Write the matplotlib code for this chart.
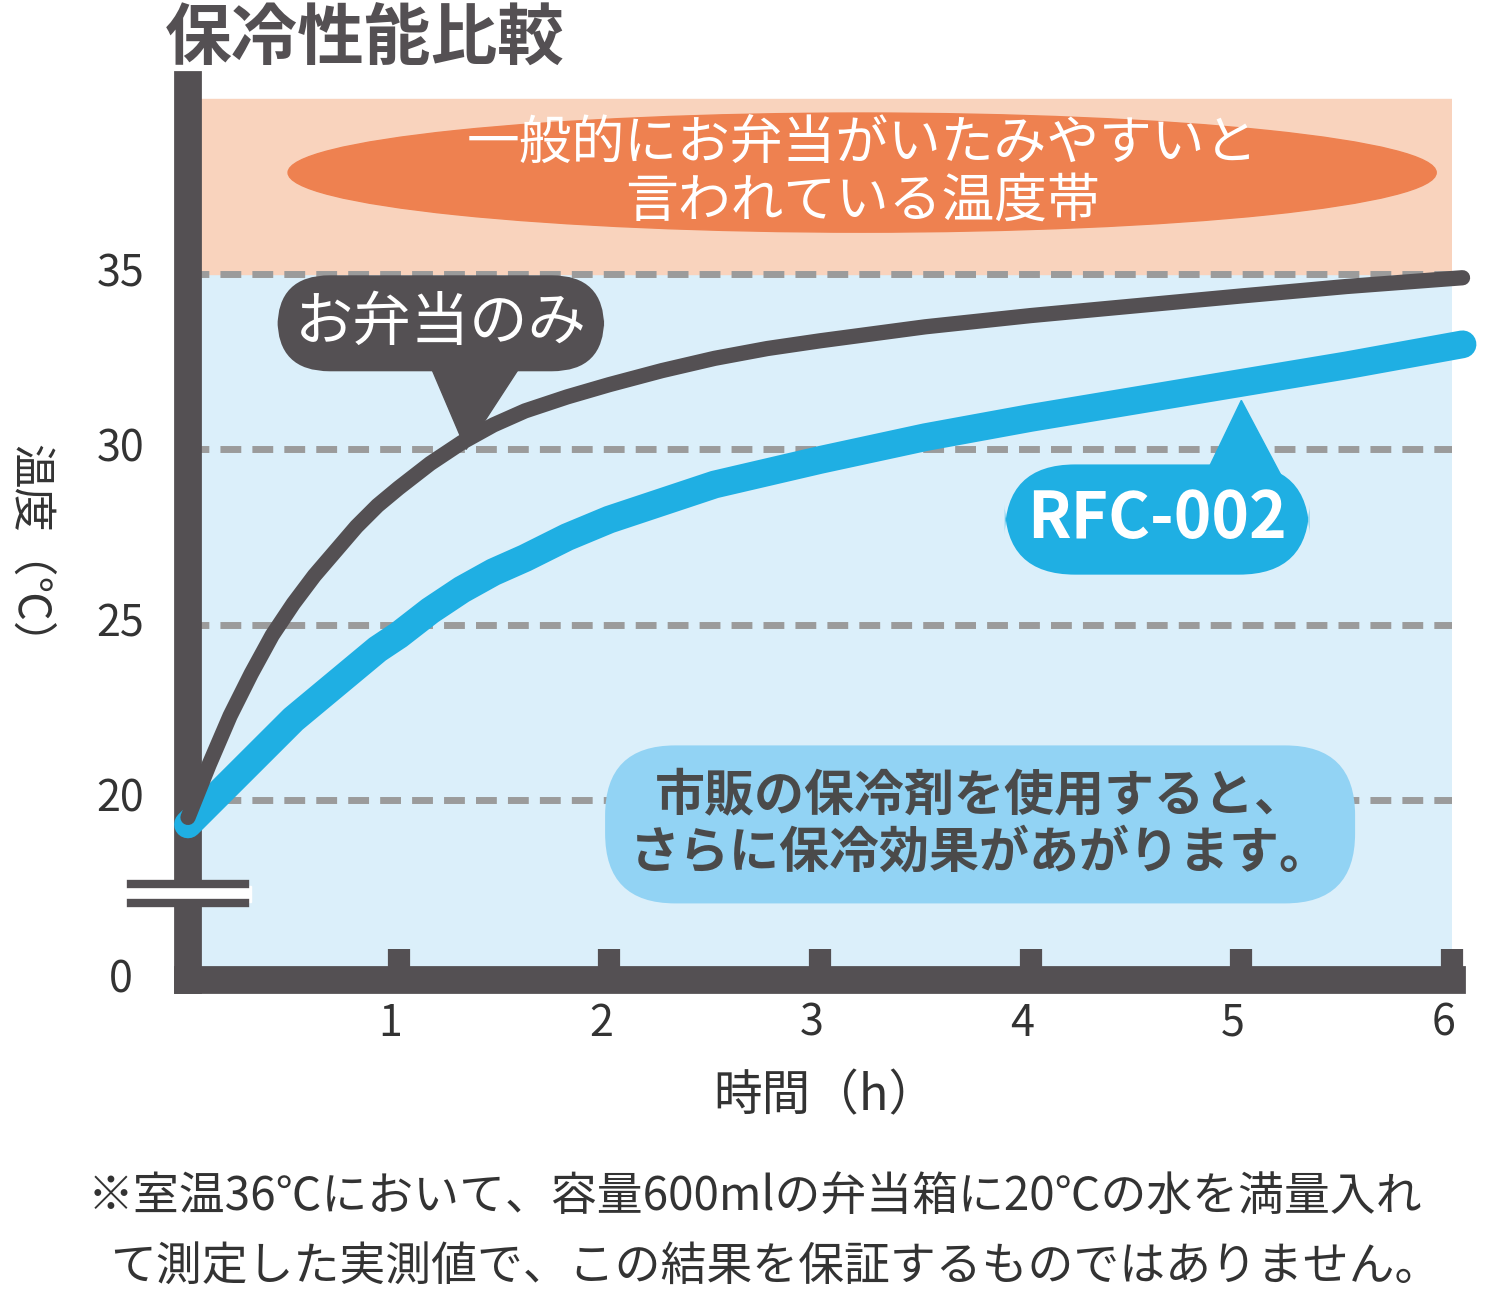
import matplotlib
matplotlib.use("Agg")
import matplotlib.pyplot as plt
import numpy as np
from matplotlib.patches import Ellipse, Polygon, Rectangle

plt.rcParams['font.family'] = ['Noto Sans CJK JP', 'DejaVu Sans']

hours = [0, 0.1, 0.2, 0.3, 0.4, 0.5, 0.6, 0.7, 0.8, 0.9, 1.0, 1.15, 1.3, 1.45, 1.6, 1.8, 2.0, 2.25, 2.5, 2.75, 3.0, 3.5, 4.0, 4.5, 5.0, 5.5, 6.05]
bento_only = [19.5, 21.0, 22.4, 23.6, 24.7, 25.6, 26.4, 27.1, 27.8, 28.4, 28.9, 29.6, 30.2, 30.7, 31.1, 31.5, 31.85, 32.25, 32.6, 32.88, 33.1, 33.5, 33.82, 34.1, 34.38, 34.65, 34.9]
rfc002 = [19.3, 19.9, 20.5, 21.1, 21.7, 22.3, 22.8, 23.3, 23.8, 24.3, 24.7, 25.4, 26.0, 26.5, 26.9, 27.5, 28.0, 28.5, 29.0, 29.35, 29.7, 30.35, 30.9, 31.4, 31.9, 32.4, 33.0]
x_ticks = [1, 2, 3, 4, 5, 6]
y_ticks = [20, 25, 30, 35]
danger_low, danger_high = 35, 40

DARK = '#545053'
BLUE = '#1fafe3'
ORANGE_BG = '#f9d3bd'
BLUE_BG = '#dbeffa'
TXT = '#333333'

fig = plt.figure(figsize=(15, 12.93), dpi=100)
ax = fig.add_axes([188/1500, (1293-980)/1293, (1452-188)/1500, (980-85)/1293])
ax.set_xlim(0, 6.0)
ax.set_ylim(14.86, 40.4)

ax.axhspan(14.86, danger_low, color=BLUE_BG, zorder=0)
ax.axhspan(danger_low, danger_high, color=ORANGE_BG, zorder=0)
for y in y_ticks:
    ax.axhline(y, color='#9b9b9b', lw=5, ls=(0, (3, 1.6)), zorder=1)

ax.plot(hours, rfc002, color=BLUE, lw=20, solid_capstyle='round', solid_joinstyle='round', zorder=3, clip_on=False)
ax.plot(hours, bento_only, color=DARK, lw=11, solid_capstyle='round', solid_joinstyle='round', zorder=4, clip_on=False)

for s in ['top', 'right']:
    ax.spines[s].set_visible(False)
for s in ['left', 'bottom']:
    ax.spines[s].set_color(DARK)
    ax.spines[s].set_linewidth(20)
ax.set_xticks(x_ticks)
ax.set_xticklabels([])
ax.tick_params(axis='x', direction='in', length=22, width=16, color=DARK)
ax.set_yticks([])
for x in x_ticks:
    ax.text(x - 0.04, 14.86 - 1.25, str(x), ha='center', va='center', fontsize=31, color=TXT)
for y in y_ticks:
    ax.text(-0.32, y, str(y), ha='center', va='center', fontsize=31, color=TXT)
ax.text(-0.32, 14.86, '0', ha='center', va='center', fontsize=31, color=TXT)

# axis break
ax.add_patch(Rectangle((-0.3, 17.1), 0.6, 0.45, color='white', clip_on=False, zorder=6))
for yb in (17.05, 17.6):
    ax.plot([-0.27, 0.27], [yb, yb], color=DARK, lw=6, clip_on=False, zorder=7)

fig.text(825/1500, 1-1097/1293, '時間（h）', ha='center', va='center', fontsize=35, color=TXT)
fig.text(30/1500, 1-555/1293, '温度（℃）', ha='center', va='center', fontsize=32, color=TXT, rotation=-90)
fig.text(165/1500, 1-40/1293, '保冷性能比較', ha='left', va='center', fontsize=48, fontweight='bold', color=DARK)
fig.text(755/1500, 1-1197/1293, '※室温36℃において、容量600mlの弁当箱に20℃の水を満量入れ', ha='center', va='center', fontsize=33, color=TXT)
fig.text(775/1500, 1-1267/1293, 'て測定した実測値で、この結果を保証するものではありません。', ha='center', va='center', fontsize=33, color=TXT)

# orange ellipse
ax.add_patch(Ellipse((3.2, 37.9), 5.45, 3.4, color='#ee8150', zorder=5))
ax.text(3.2, 37.9, '一般的にお弁当がいたみやすいと\n言われている温度帯', ha='center', va='center',
        fontsize=38, color='white', zorder=6, linespacing=1.05)

# お弁当のみ bubble
ax.add_patch(Polygon([[1.15, 32.4], [1.58, 32.4], [1.32, 30.0]], color=DARK, zorder=5))
ax.text(1.2, 33.6, 'お弁当のみ', ha='center', va='center', fontsize=42, color='white', zorder=6,
        bbox=dict(boxstyle='round,pad=0.3,rounding_size=0.9', fc=DARK, ec='none'))

# RFC-002 bubble
ax.add_patch(Polygon([[4.8, 28.9], [5.22, 28.9], [5.0, 31.4]], color=BLUE, zorder=5))
ax.text(4.6, 28.0, 'RFC-002', ha='center', va='center', fontsize=46, fontweight='bold', color='white', zorder=6,
        bbox=dict(boxstyle='round,pad=0.35,rounding_size=1.1', fc=BLUE, ec='none'))

# info box
ax.text(3.76, 19.3, '市販の保冷剤を使用すると、\nさらに保冷効果があがります。', ha='center', va='center',
        fontsize=36, fontweight='bold', color='#4a4a4a', zorder=6, linespacing=1.15,
        bbox=dict(boxstyle='round,pad=0.5,rounding_size=1.4', fc='#92d3f4', ec='none'))

fig.savefig('out.png', dpi=100)
